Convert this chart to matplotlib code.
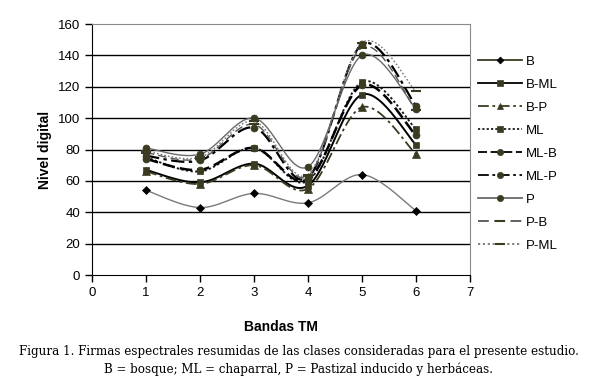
import numpy as np
import matplotlib
matplotlib.use("Agg")
import matplotlib.pyplot as plt
from matplotlib.lines import Line2D

bands = [1, 2, 3, 4, 5, 6]
labels = ["B", "B-ML", "B-P", "ML", "ML-B", "ML-P", "P", "P-B", "P-ML"]
B = [54, 43, 52, 46, 64, 41]
B_ML = [67, 59, 71, 57, 115, 83]
B_P = [66, 58, 70, 55, 107, 77]
ML = [75, 66, 81, 60, 123, 93]
ML_B = [74, 67, 81, 61, 121, 89]
ML_P = [76, 73, 94, 62, 147, 108]
P = [81, 77, 100, 69, 140, 106]
P_B = [78, 74, 96, 63, 145, 105]
P_ML = [79, 75, 98, 64, 148, 117]
series = [B, B_ML, B_P, ML, ML_B, ML_P, P, P_B, P_ML]

yticks = [0, 20, 40, 60, 80, 100, 120, 140, 160]
xticks = [0, 1, 2, 3, 4, 5, 6, 7]

mk = "#3b3b22"
styles = [
    dict(color="#7a7a7a", ls="-", lw=1.0, marker="D", ms=4, mc="#000000"),
    dict(color="#000000", ls="-", lw=1.4, marker="s", ms=5, mc=mk),
    dict(color="#3b3b22", ls=(0, (6, 2, 1.5, 2)), lw=1.3, marker="^", ms=5.5, mc=mk),
    dict(color="#1a1a1a", ls=(0, (1.2, 1.2)), lw=1.4, marker="s", ms=5, mc=mk),
    dict(color="#000000", ls=(0, (5, 2)), lw=1.8, marker="o", ms=5, mc=mk),
    dict(color="#000000", ls=(0, (6, 2, 1.5, 2)), lw=1.6, marker="o", ms=5, mc=mk),
    dict(color="#6a6a6a", ls="-", lw=1.0, marker="o", ms=5, mc=mk),
    dict(color="#555555", ls=(0, (6, 3)), lw=1.0, marker="_", ms=7, mc=mk),
    dict(color="#777777", ls=(0, (1.2, 1.5)), lw=1.0, marker="_", ms=7, mc=mk),
]


def smooth(x, y, n=30):
    x = np.asarray(x, float)
    y = np.asarray(y, float)
    px = np.concatenate([[x[0]], x, [x[-1]]])
    py = np.concatenate([[y[0]], y, [y[-1]]])
    xs, ys = [], []
    t = np.linspace(0, 1, n)
    for i in range(len(x) - 1):
        p0 = np.array([x[i], y[i]])
        p3 = np.array([x[i + 1], y[i + 1]])
        c1 = p0 + (np.array([px[i + 2], py[i + 2]]) - np.array([px[i], py[i]])) / 6
        c2 = p3 - (np.array([px[i + 3], py[i + 3]]) - np.array([px[i + 1], py[i + 1]])) / 6
        bx = (1 - t) ** 3 * p0[0] + 3 * (1 - t) ** 2 * t * c1[0] + 3 * (1 - t) * t ** 2 * c2[0] + t ** 3 * p3[0]
        by = (1 - t) ** 3 * p0[1] + 3 * (1 - t) ** 2 * t * c1[1] + 3 * (1 - t) * t ** 2 * c2[1] + t ** 3 * p3[1]
        xs.extend(bx)
        ys.extend(by)
    return np.array(xs), np.array(ys)


plt.rcParams["font.family"] = ["Liberation Sans", "DejaVu Sans"]
fig = plt.figure(figsize=(5.98, 3.87), dpi=100)
ax = fig.add_axes([92 / 598, 112 / 387, 378 / 598, 251 / 387])

for yv in yticks[1:-1]:
    ax.axhline(yv, color="black", lw=1.0, zorder=1)

handles = []
for lab, vals, st in zip(labels, series, styles):
    sx, sy = smooth(bands, vals)
    ax.plot(sx, sy, color=st["color"], ls=st["ls"], lw=st["lw"], zorder=2)
    ax.plot(bands, vals, ls="none", marker=st["marker"], ms=st["ms"],
            color=st["mc"], mec=st["mc"], mew=1.5 if st["marker"] == "_" else 0.5, zorder=3)
    handles.append(Line2D([0], [0], color=st["color"] if st["color"] != "#7a7a7a" else "#3b3b22",
                          ls=st["ls"], lw=1.3, marker=st["marker"], ms=st["ms"] - 0.5,
                          mfc=st["mc"], mec=st["mc"], mew=1.5 if st["marker"] == "_" else 0.5))

ax.set_xlim(0, 7)
ax.set_ylim(0, 160)
ax.set_xticks(xticks)
ax.set_yticks(yticks)
ax.tick_params(direction="out", length=5, width=1, labelsize=9.5, colors="black")
for s in ["top", "right"]:
    ax.spines[s].set_color("#8a8a8a")
for s in ["left", "bottom"]:
    ax.spines[s].set_color("black")
ax.set_xlabel("Bandas TM", fontsize=10, fontweight="bold", labelpad=15)
ax.set_ylabel("Nivel digital", fontsize=10, fontweight="bold", labelpad=4)

leg = ax.legend(handles, labels, loc="upper left", bbox_to_anchor=(473 / 598, 1 - 50 / 387),
                bbox_transform=fig.transFigure, frameon=False, fontsize=9.5,
                handlelength=3.3, handletextpad=0.3, labelspacing=0.82, borderaxespad=0)

fig.text(0.5, 1 - 352 / 387, "Figura 1. Firmas espectrales resumidas de las clases consideradas para el presente estudio.",
         ha="center", va="center", fontsize=8.6, family=["DejaVu Serif"])
fig.text(0.5, 1 - 369 / 387, "B = bosque; ML = chaparral, P = Pastizal inducido y herbáceas.",
         ha="center", va="center", fontsize=8.6, family=["DejaVu Serif"])

fig.savefig("out.png", dpi=100)
